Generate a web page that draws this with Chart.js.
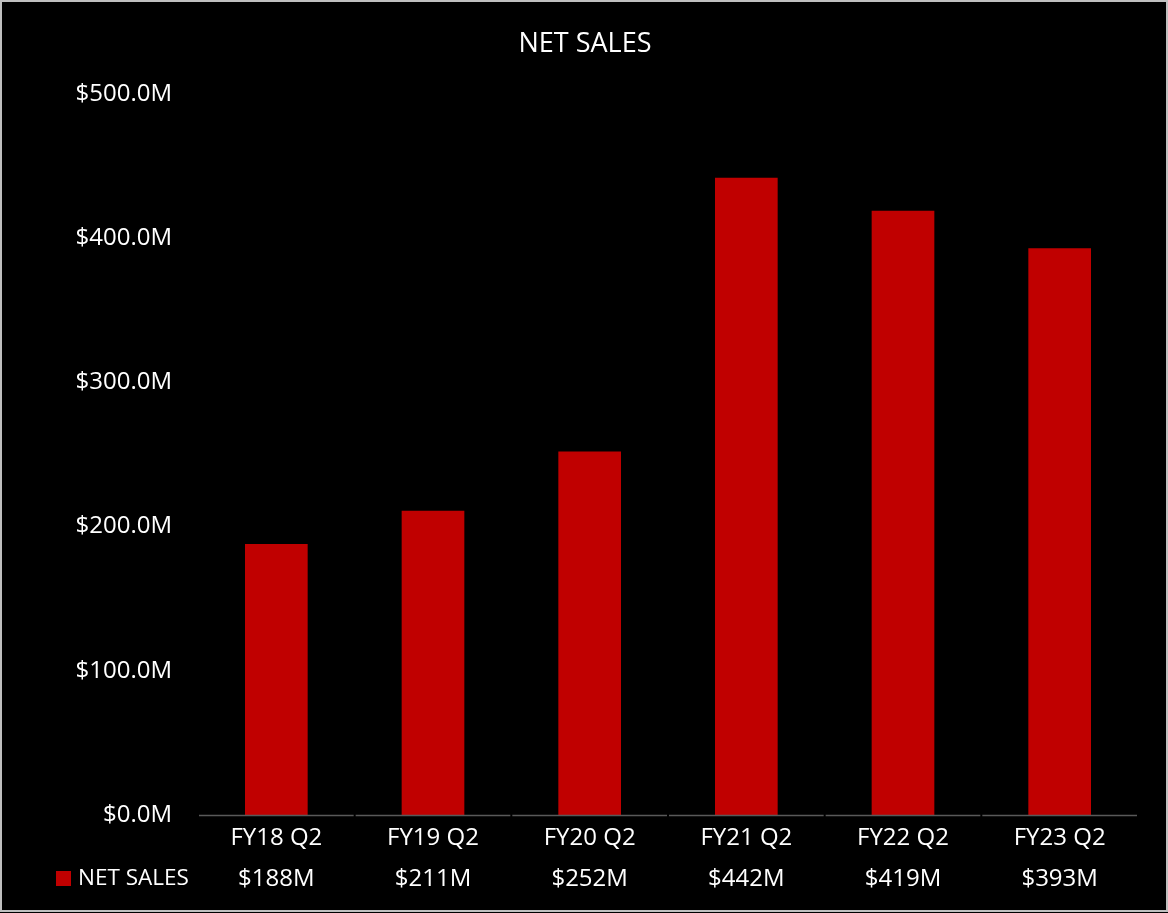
<!DOCTYPE html>
<html>
<head>
<meta charset="utf-8">
<script src="https://cdn.jsdelivr.net/npm/chart.js@4/dist/chart.umd.min.js"></script>
<style>
html,body{margin:0;padding:0;background:#000;}
#wrap{width:1168px;height:913px;position:relative;}
</style>
</head>
<body>
<div id="wrap"><canvas id="c" width="1168" height="913"></canvas></div>
<script>
const categories = ["FY18 Q2","FY19 Q2","FY20 Q2","FY21 Q2","FY22 Q2","FY23 Q2"];
const netSales = [188, 211, 252, 442, 419, 393];
const valueLabels = ["$188M","$211M","$252M","$442M","$419M","$393M"];
const seriesName = "NET SALES";
const chartTitle = "NET SALES";

const FONT = "'Open Sans', sans-serif";

const framePlugin = {
  id: 'frame',
  beforeDraw(chart) {
    const ctx = chart.ctx;
    ctx.save();
    ctx.fillStyle = '#000';
    ctx.fillRect(0, 0, chart.width, chart.height);
    ctx.restore();
  },
  afterDraw(chart) {
    const ctx = chart.ctx;
    const x = chart.scales.x, y = chart.scales.y;
    const ca = chart.chartArea;
    ctx.save();
    // title
    ctx.fillStyle = '#fff';
    ctx.font = "27px " + FONT;
    ctx.textAlign = 'center';
    ctx.textBaseline = 'middle';
    ctx.fillText(chartTitle, 585, 44);
    // axis line segments (data table style)
    ctx.strokeStyle = '#595959';
    ctx.lineWidth = 1.5;
    const n = categories.length;
    const w = (ca.right - ca.left) / n;
    for (let i = 0; i < n; i++) {
      const cx = x.getPixelForValue(i);
      ctx.beginPath();
      ctx.moveTo(cx - w / 2 + 1, y.getPixelForValue(0) + 0.5);
      ctx.lineTo(cx + w / 2 - 1, y.getPixelForValue(0) + 0.5);
      ctx.stroke();
    }
    // values row
    ctx.font = "24px " + FONT;
    ctx.fillStyle = '#fff';
    ctx.textBaseline = 'middle';
    ctx.textAlign = 'center';
    for (let i = 0; i < n; i++) {
      ctx.fillText(valueLabels[i], x.getPixelForValue(i), 879);
    }
    // legend key
    ctx.fillStyle = '#C00000';
    ctx.fillRect(56, 871, 15, 15);
    ctx.fillStyle = '#fff';
    ctx.textAlign = 'left';
    ctx.font = "22.5px " + FONT;
    ctx.fillText(seriesName, 78, 879);
    // outer border
    ctx.strokeStyle = '#bfbfbf';
    ctx.lineWidth = 2;
    ctx.strokeRect(1, 1, chart.width - 2, chart.height - 3);
    ctx.restore();
  }
};

new Chart(document.getElementById('c'), {
  type: 'bar',
  data: {
    labels: categories,
    datasets: [{
      label: seriesName,
      data: netSales,
      backgroundColor: '#C00000',
      categoryPercentage: 1.0,
      barPercentage: 0.4
    }]
  },
  options: {
    responsive: false,
    animation: false,
    devicePixelRatio: 1,
    layout: { padding: { top: 94, right: 30, left: 0, bottom: 0 } },
    plugins: {
      legend: { display: false },
      title: { display: false },
      tooltip: { enabled: false }
    },
    scales: {
      x: {
        grid: { display: false, drawTicks: false },
        border: { display: false },
        ticks: {
          color: '#fff',
          font: { family: FONT, size: 24 },
          padding: 9,
          maxRotation: 0
        },
        afterFit(s) { s.height = 98; }
      },
      y: {
        min: 0, max: 500,
        grid: { display: false, drawTicks: false },
        border: { display: false },
        ticks: {
          stepSize: 100,
          color: '#fff',
          font: { family: FONT, size: 24 },
          padding: 26,
          callback: v => '$' + v.toFixed(1) + 'M'
        },
        afterFit(s) { s.width = 198; }
      }
    }
  },
  plugins: [framePlugin]
});
</script>
</body>
</html>
